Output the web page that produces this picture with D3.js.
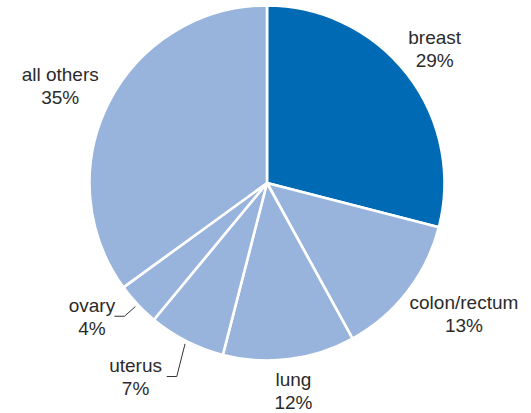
<!DOCTYPE html>
<html><head><meta charset="utf-8">
<script src="https://cdn.jsdelivr.net/npm/d3@7"></script>
<style>body{margin:0;background:#fff}svg{display:block}</style>
</head><body><svg id="c" width="531" height="413"></svg>
<script>
const categories = ["breast", "colon/rectum", "lung", "uterus", "ovary", "all others"];
const values = [29, 13, 12, 7, 4, 35];
const valueLabels = ["29%", "13%", "12%", "7%", "4%", "35%"];

const W = 531, H = 413, cx = 267, cy = 183, R = 177.5;
const colorDark = "#006ab5", colorLight = "#98b3dc";
// label layout: radius for label center, angle shift (degrees)
const labelLayout = {
  "breast": {r: 214, da: -0.6},
  "colon/rectum": {r: 237, da: -4},
  "lung": {r: 211, da: 0},
  "uterus": {r: 235, da: 7},
  "ovary": {r: 221, da: 5.6},
  "all others": {r: 228, da: -2.1}
};
const leaders = {
  "uterus": [[-8.3, 32.7], [-10, 0]],
  "ovary": [[-11, 9.7], [-10, 0]]
};

const data = categories.map((c, i) => ({cat: c, v: values[i], lab: valueLabels[i]}));
const svg = d3.select("#c");
const g = svg.append("g").attr("transform", `translate(${cx},${cy})`);
const pie = d3.pie().value(d => d.v).sort(null);
const arcs = pie(data);
const arc = d3.arc().innerRadius(0).outerRadius(R);

g.selectAll("path.slice").data(arcs).join("path")
  .attr("class", "slice")
  .attr("d", arc)
  .attr("fill", (d, i) => i === 0 ? colorDark : colorLight)
  .attr("stroke", "#fff").attr("stroke-width", 2.6).attr("stroke-linejoin", "round");

function polar(r, a) { return [r * Math.sin(a), -r * Math.cos(a)]; }

arcs.forEach(d => {
  const L = labelLayout[d.data.cat];
  const mid = (d.startAngle + d.endAngle) / 2 + L.da * Math.PI / 180;
  const [x, y] = polar(L.r, mid);
  const t = g.append("text").attr("text-anchor", "middle")
    .attr("font-family", "Liberation Sans, Arial, sans-serif")
    .attr("font-size", 19).attr("fill", "#2b2b2b");
  t.append("tspan").attr("x", x).attr("y", y - 6).text(d.data.cat);
  t.append("tspan").attr("x", x).attr("y", y + 17).text(d.data.lab);
  const ld = leaders[d.data.cat];
  if (ld) {
    const m = (d.startAngle + d.endAngle) / 2;
    const p1 = polar(R + 3, m);
    const p2 = [p1[0] + ld[0][0], p1[1] + ld[0][1]];
    const p3 = [p2[0] + ld[1][0], p2[1] + ld[1][1]];
    g.append("path").attr("d", d3.line()([p1, p2, p3]))
      .attr("fill", "none").attr("stroke", "#333").attr("stroke-width", 1);
  }
});
</script></body></html>
